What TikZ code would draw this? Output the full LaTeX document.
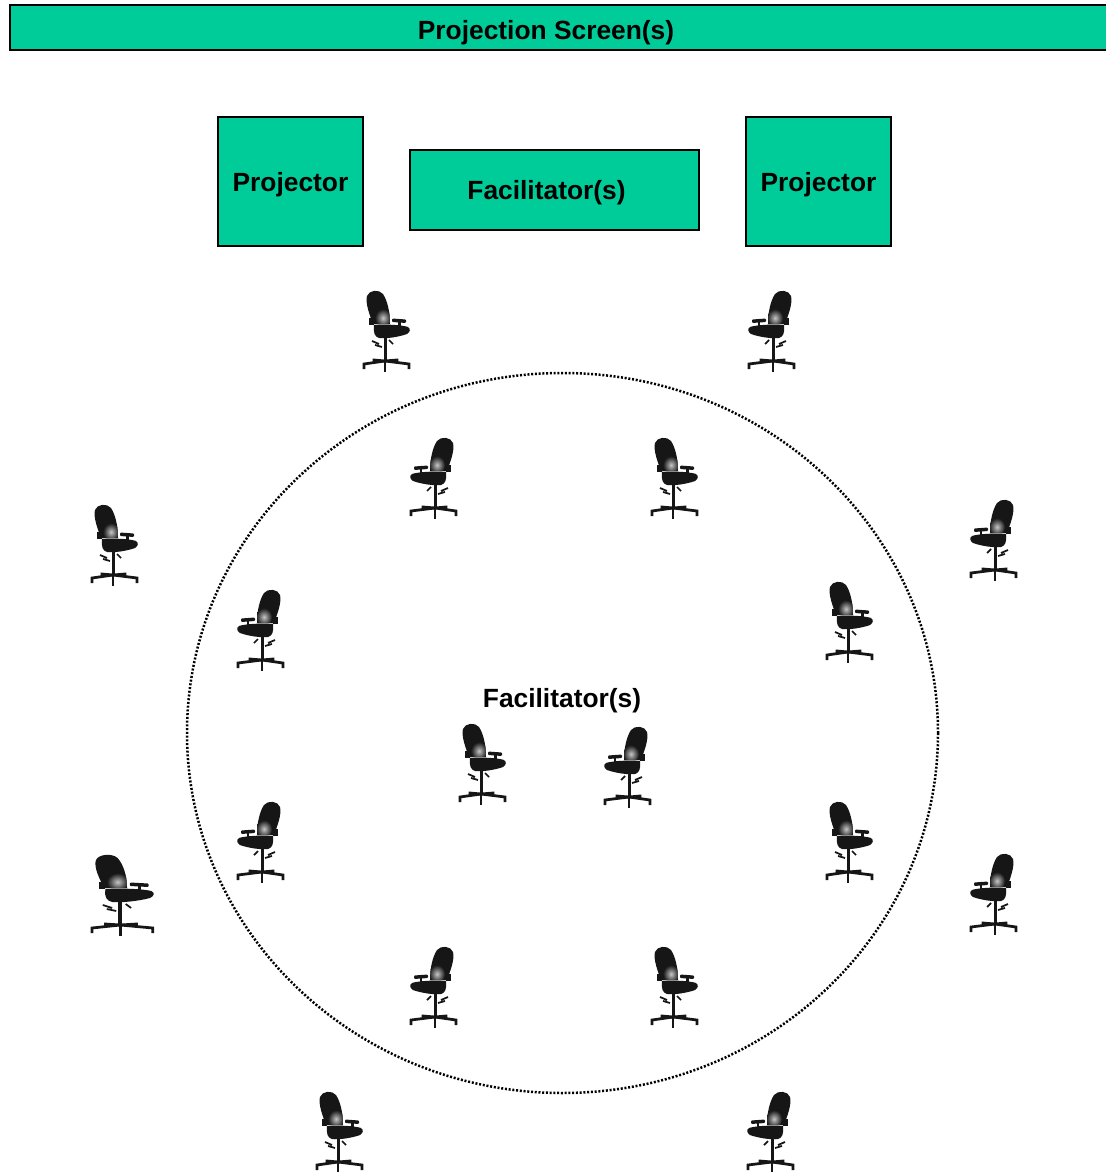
\documentclass[tikz,border=0pt]{standalone}
\usepackage{fontspec}
\setmainfont{Liberation Sans}
\usepackage{tikz}
\tikzset{>=latex}
\usetikzlibrary{calc}
\definecolor{screengreen}{HTML}{00CC99}
\definecolor{chairblack}{HTML}{161616}
\tikzset{
	box/.style={draw=black,line width=0.055cm,fill=screengreen,text depth=0pt},
	boxtext/.style={font=\bfseries\fontsize{15}{18}\selectfont},
	ring/.style={line width=0.05cm,dash pattern=on 0.04cm off 0.035cm},
	leg/.style={line width=0.055cm,chairblack},
	chair/.pic={
		% backrest
		\fill[chairblack] (-14,-7) .. controls (-17,-15) and (-22,-28) .. (-20,-35)
			.. controls (-18,-41) and (-8,-42) .. (-4,-37)
			.. controls (0,-31) and (3,-20) .. (3,-7) -- cycle;
		\begin{scope}
			\clip (-14,-7) .. controls (-17,-15) and (-22,-28) .. (-20,-35)
				.. controls (-18,-41) and (-8,-42) .. (-4,-37)
				.. controls (0,-31) and (3,-20) .. (3,-7) -- cycle;
			\shade[inner color=gray!45,outer color=chairblack] (-4,-13) ellipse [x radius=8, y radius=9];
		\end{scope}
		\fill[chairblack] (-18,-13) rectangle (-13,-6);
		% armrest
		\fill[chairblack,rounded corners=0.02cm] (5,-12.5) -- (19,-11.5) -- (19,-8) -- (5,-9) -- cycle;
		\fill[chairblack] (11,-9) rectangle (13.5,-3);
		% seat
		\fill[chairblack] (-13,-6) .. controls (0,-7) and (15,-6) .. (21,-4)
			.. controls (24,-2) and (23,1) .. (20,3)
			.. controls (12,6) and (-2,8) .. (-8,7)
			.. controls (-12,6) and (-14,2) .. cycle;
		% levers and stem
		\draw[leg,line width=0.035cm] (-15,10) -- (-8,13) (-12,14) -- (-5,16) (2,9) -- (6,13);
		\fill[chairblack] (-3.5,7) rectangle (-0.5,31);
		% base
		\draw[leg] (-2,30) -- (-23,33) -- (-23,38);
		\draw[leg] (-2,30) -- (22,33) -- (22,38);
		\draw[leg] (-2,30) -- (-13,29) -- (-13,32);
		\draw[leg] (-2,30) -- (10,29) -- (10,32);
		\draw[leg] (-2,30) -- (-2,41);
	}
}

\begin{document}
\begin{tikzpicture}[x=0.02cm,y=-0.02cm]
	\useasboundingbox (0,0) rectangle (1105,1172);

	% screen and front boxes
	\draw[box] (10,5) rectangle (1125,50);
	\node[boxtext,text depth=0pt] (screen) at (546,30) {Projection Screen(s)};
	\node[box,boxtext,minimum width=2.9cm,minimum height=2.58cm] (projL) at (290.5,181.5) {Projector};
	\node[box,boxtext,minimum width=5.78cm,minimum height=1.6cm] (facilTop) at (554.5,190) {Facilitator(s)\rule{0.32cm}{0pt}};
	\node[box,boxtext,minimum width=2.9cm,minimum height=2.58cm] (projR) at (818.5,181.5) {Projector};

	% inner circle
	\coordinate (O) at (562.5,733);
	\draw[ring] (O) ellipse [x radius=375.5, y radius=360];
	\node[boxtext,text depth=0pt] (facilMid) at (562,698) {Facilitator(s)};

	% chairs: x / y / facing
	\foreach \cx/\cy/\side [count=\i] in {387/331/1, 771/331/-1, 433/478/-1, 675/478/1,
		115/545/1, 993/540/-1, 260/630/-1, 850/622/1, 483/764/1, 627/767/-1,
		260/842/-1, 850/842/1, 123/895/1.35, 993/894/-1, 433/987/-1, 675/987/1,
		340/1132/1, 770/1132/-1}
		\pic[xscale=\side] (chair\i) at (\cx,\cy) {chair};
\end{tikzpicture}
\end{document}
